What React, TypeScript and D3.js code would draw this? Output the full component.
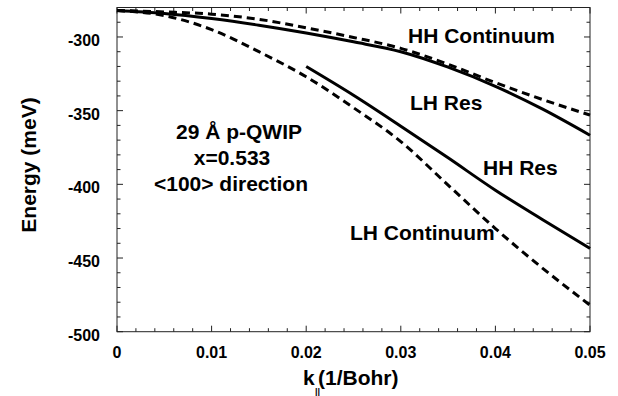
import React from "react";
import * as d3 from "d3";

const kGrid = [0, 0.005, 0.01, 0.015, 0.02, 0.025, 0.03, 0.035, 0.04, 0.045, 0.05];
const hhContinuum = [-282, -283, -284.5, -288, -293.8, -300.3, -307.7, -318.5, -331, -342.5, -353];
const lhRes = [-282, -284, -287.5, -292, -297.3, -303.3, -310, -320.5, -333.5, -349, -366.7];
const lhContinuum = [-282, -285.5, -295, -310, -327, -348, -371, -400.5, -430, -457, -482];
const hhResK = [0.02, 0.025, 0.03, 0.035, 0.04, 0.045, 0.05];
const hhRes = [-320, -339.5, -360.5, -382, -404, -424, -443.5];

const xTicks = [0, 0.01, 0.02, 0.03, 0.04, 0.05];
const xTickLabels = ["0", "0.01", "0.02", "0.03", "0.04", "0.05"];
const yTicks = [-500, -450, -400, -350, -300];
const yTickLabels = ["-500", "-450", "-400", "-350", "-300"];
const annotation = ["29 Å p-QWIP", "x=0.533", "<100> direction"];

const W = 618;
const H = 396;
const L = 117, R = 590, T = 7.5, B = 331.7;
const FONT = "'Liberation Sans', Arial, Helvetica, sans-serif";

export default function App() {
  const x = d3.scaleLinear().domain([0, 0.05]).range([L, R]);
  const y = d3.scaleLinear().domain([-500, -280]).range([B, T]);
  const line = d3
    .line<[number, number]>()
    .x((d) => x(d[0]))
    .y((d) => y(d[1]))
    .curve(d3.curveMonotoneX);

  const zip = (ks: number[], vs: number[]) => ks.map((k, i) => [k, vs[i]] as [number, number]);

  const xMinor = d3.range(0, 0.0501, 0.002);
  const yMinor = d3.range(-500, -279, 10);

  return (
    <svg width={W} height={H} style={{ position: "absolute", left: 0, top: 0, background: "#fff" }} fontFamily={FONT}>
      <rect x={0} y={0} width={W} height={H} fill="#fff" />
      <rect x={L} y={T} width={R - L} height={B - T} fill="none" stroke="#222" strokeWidth={1} />
      {xMinor.map((v, i) => {
        const major = Math.abs(v / 0.01 - Math.round(v / 0.01)) < 1e-6;
        const len = major ? 6 : 3.5;
        return (
          <g key={"xt" + i} stroke="#222" strokeWidth={1}>
            <line x1={x(v)} x2={x(v)} y1={B} y2={B - len} />
            <line x1={x(v)} x2={x(v)} y1={T} y2={T + len} />
          </g>
        );
      })}
      {yMinor.map((v, i) => {
        const major = Math.round(v) % 50 === 0;
        const len = major ? 6 : 3.5;
        return (
          <g key={"yt" + i} stroke="#222" strokeWidth={1}>
            <line x1={L} x2={L + len} y1={y(v)} y2={y(v)} />
            <line x1={R} x2={R - len} y1={y(v)} y2={y(v)} />
          </g>
        );
      })}
      {xTicks.map((v, i) => (
        <text key={"xl" + i} x={x(v)} y={357.5} textAnchor="middle" fontSize={16} fontWeight="bold" fill="#000">
          {xTickLabels[i]}
        </text>
      ))}
      {yTicks.map((v, i) => (
        <text key={"yl" + i} x={100} y={y(v) + 9} textAnchor="end" fontSize={16} fontWeight="bold" fill="#000">
          {yTickLabels[i]}
        </text>
      ))}
      <text transform="translate(36,165) rotate(-90)" textAnchor="middle" fontSize={21} fontWeight="bold" fill="#000">
        Energy (meV)
      </text>
      <text x={303} y={385} fontSize={21} fontWeight="bold" fill="#000">k</text>
      <text x={315} y={395} fontSize={9} fontWeight="bold" fill="#000">||</text>
      <text x={318} y={385} fontSize={21} fontWeight="bold" fill="#000">(1/Bohr)</text>

      <g fill="none" stroke="#000" strokeWidth={3}>
        <path d={line(zip(kGrid, hhContinuum)) || ""} strokeDasharray="8,5" />
        <path d={line(zip(kGrid, lhContinuum)) || ""} strokeDasharray="8,5" />
        <path d={line(zip(kGrid, lhRes)) || ""} />
        <path d={line(zip(hhResK, hhRes)) || ""} />
      </g>

      <g fontSize={21} fontWeight="bold" fill="#000">
        <text x={408} y={43}>HH Continuum</text>
        <text x={410} y={110}>LH Res</text>
        <text x={483} y={175}>HH Res</text>
        <text x={350} y={240}>LH Continuum</text>
        <text x={239} y={139} textAnchor="middle">{annotation[0]}</text>
        <text x={232} y={165} textAnchor="middle">{annotation[1]}</text>
        <text x={231} y={191} textAnchor="middle">{annotation[2]}</text>
      </g>
    </svg>
  );
}
